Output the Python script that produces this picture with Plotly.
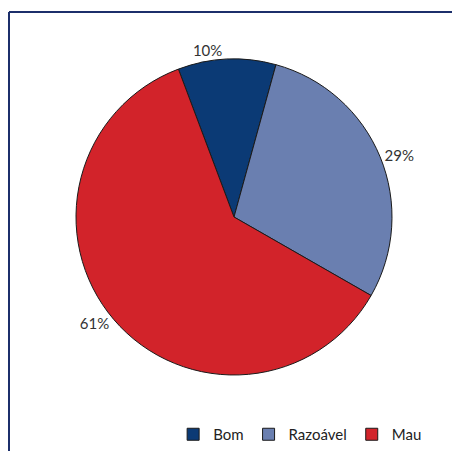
import plotly.graph_objects as go

categories = ["Bom", "Razoável", "Mau"]
values = [10, 29, 61]
colors = ["#0b3a75", "#6a7fb0", "#d2232a"]

W, H = 452, 451
cx, cy, r = 234, 217, 158

fig = go.Figure(go.Pie(
    labels=categories,
    values=values,
    sort=False,
    direction="clockwise",
    rotation=-20.6,
    marker=dict(colors=colors, line=dict(color="#1a1a1a", width=1)),
    textinfo="percent",
    textposition="outside",
    outsidetextfont=dict(family="Lato, Open Sans, sans-serif", size=15, color="#333333"),
    domain=dict(x=[(cx - r) / W, (cx + r) / W], y=[(H - cy - r) / H, (H - cy + r) / H]),
    showlegend=True,
    automargin=False,
))

fig.update_layout(
    width=W, height=H,
    margin=dict(l=0, r=0, t=0, b=0),
    paper_bgcolor="white",
    font=dict(family="Lato, Open Sans, sans-serif", size=15, color="#222222"),
    legend=dict(
        orientation="h",
        x=0.945, xanchor="right",
        y=0.0, yanchor="bottom",
        font=dict(size=15, color="#222222"),
        itemwidth=30,
        traceorder="normal",
    ),
    shapes=[
        dict(type="line", xref="paper", yref="paper",
             x0=9 / W, y0=0, x1=9 / W, y1=(H - 12) / H,
             line=dict(color="#1c2f6b", width=2)),
        dict(type="line", xref="paper", yref="paper",
             x0=9 / W, y0=(H - 12) / H, x1=1, y1=(H - 12) / H,
             line=dict(color="#1c2f6b", width=2)),
    ],
)

fig.write_html("out.html")
